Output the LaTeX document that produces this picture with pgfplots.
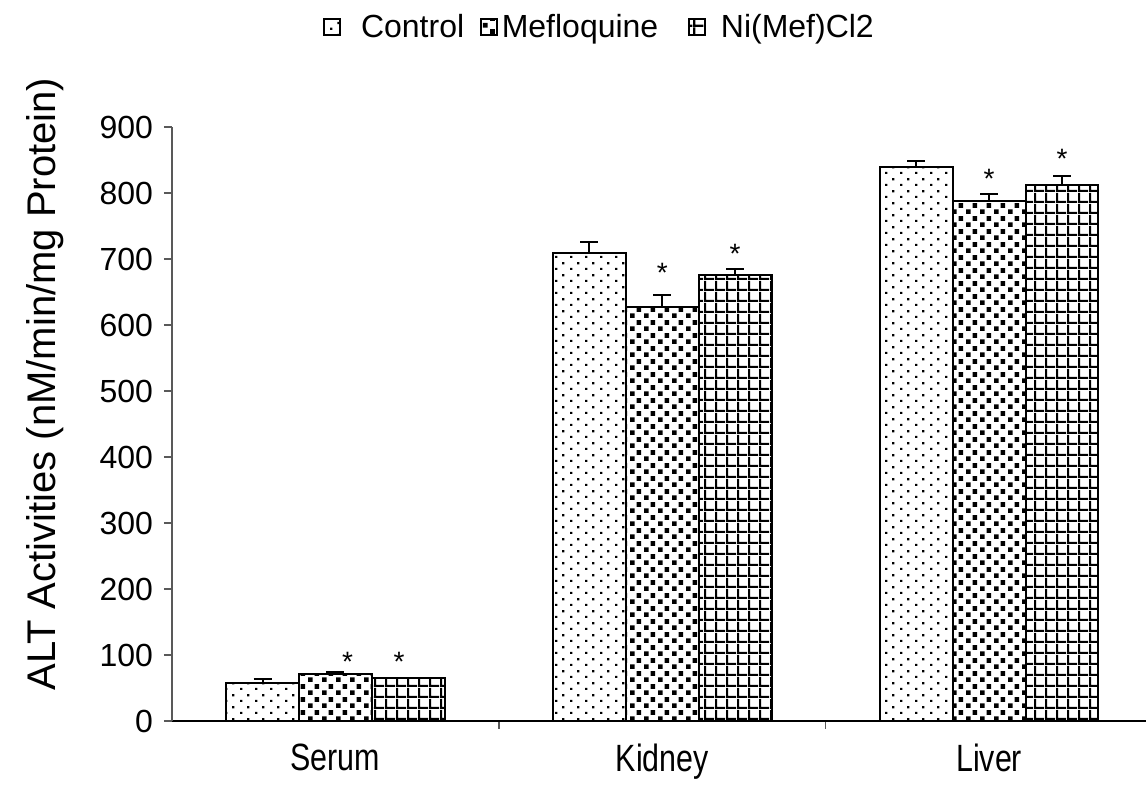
\documentclass[border=0pt]{standalone}
\usepackage{fontspec}
\setmainfont{Liberation Sans}
\newfontfamily\narrowsans[FakeStretch=0.8]{Liberation Sans}
\usepackage{pgfplots}
\usepackage{pgfplotstable}
\pgfplotsset{compat=1.18}
\usetikzlibrary{patterns}

% fill patterns of the three groups
\pgfdeclarepatternformonly{ctrldots}{\pgfpointorigin}{\pgfpoint{7.5pt}{6pt}}{\pgfpoint{7.5pt}{6pt}}{%
  \pgfpathrectangle{\pgfpoint{0pt}{0pt}}{\pgfpoint{1.2pt}{1.2pt}}%
  \pgfpathrectangle{\pgfpoint{3.75pt}{3pt}}{\pgfpoint{1.2pt}{1.2pt}}%
  \pgfusepath{fill}}
\pgfdeclarepatternformonly{mefsquares}{\pgfpointorigin}{\pgfpoint{7pt}{6.6pt}}{\pgfpoint{7pt}{6.6pt}}{%
  \pgfpathrectangle{\pgfpoint{0pt}{0pt}}{\pgfpoint{2.5pt}{2.5pt}}%
  \pgfpathrectangle{\pgfpoint{3.5pt}{3.3pt}}{\pgfpoint{2.5pt}{2.5pt}}%
  \pgfusepath{fill}}
\pgfdeclarepatternformonly{nigrid}{\pgfpointorigin}{\pgfpoint{5.5pt}{5.5pt}}{\pgfpoint{5.5pt}{5.5pt}}{%
  \pgfpathrectangle{\pgfpoint{0pt}{0pt}}{\pgfpoint{1.2pt}{5.5pt}}%
  \pgfpathrectangle{\pgfpoint{0pt}{0pt}}{\pgfpoint{5.5pt}{1.2pt}}%
  \pgfusepath{fill}}

\pgfplotstableread{
x y e
0 57 6
1 709 17
2 839 10
}\ctrl
\pgfplotstableread{
x y e
0 71 3
1 627 18
2 788 10
}\mef
\pgfplotstableread{
x y e
0 65 0
1 676 9
2 812 14
}\nimef
% baselines of the significance asterisks
\pgfplotstableread{
x y
0.037 74
0.195 74
1 664
1.223 692
2 806
2.223 837
}\stars

\pgfplotsset{
  grpbar/.style={ybar, bar width=0.223, bar shift=0, draw=black, line width=1pt,
    error bars/y dir=plus, error bars/y explicit, error bars/error mark=-,
    error bars/error bar style={line width=1pt, black},
    error bars/error mark options={rotate=90, mark size=4.5pt, line width=1pt, black}},
}

\begin{document}
\begin{tikzpicture}
\begin{axis}[
  at={(0pt,0pt)}, anchor=south west,
  scale only axis, width=487pt, height=297pt,
  xmin=-0.5, xmax=2.48, ymin=0, ymax=900,
  axis x line*=bottom, axis y line*=left,
  axis line style={-, line width=0.8pt},
  x axis line style={black}, y axis line style={black!65},
  ytick={0,100,...,900},
  xtick={0.5,1.5}, xticklabels={},
  extra x ticks={0,1,2}, extra x tick labels={Serum,Kidney,Liver},
  extra x tick style={major tick length=0pt},
  tick align=outside, major tick length=4pt,
  tick style={black!65, line width=0.8pt},
  /pgf/number format/assume math mode=true,
  yticklabel style={font=\fontsize{16}{16}\selectfont, xshift=-2pt},
  xticklabel style={font=\narrowsans\fontsize{19}{19}\selectfont, yshift=-8pt},
  ylabel={ALT Activities (nM/min/mg Protein)},
  ylabel style={font=\fontsize{20}{20}\selectfont, at={(axis description cs:-0.1304,0.567)}, anchor=center},
  legend columns=3,
  legend style={at={(axis description cs:0.438,1.168)}, anchor=center, draw=none,
    font=\fontsize{16}{16}\selectfont, nodes={inner sep=0pt, text depth=0.15em}},
  legend image code/.code={\draw[#1, line width=0.8pt] (0pt,-4pt) rectangle (8pt,4pt);},
]
\addplot[grpbar, pattern=ctrldots] table[x expr=\thisrow{x}-0.223, y=y, y error=e] {\ctrl};
\addlegendentry{\rule{10pt}{0pt}Control\rule{8pt}{0pt}}
\addplot[grpbar, pattern=mefsquares] table[x=x, y=y, y error=e] {\mef};
\addlegendentry{\rule{2pt}{0pt}Mefloquine\rule{15pt}{0pt}}
\addplot[grpbar, pattern=nigrid] table[x expr=\thisrow{x}+0.223, y=y, y error=e] {\nimef};
\addlegendentry{\rule{7.5pt}{0pt}Ni(Mef)Cl2}
\addplot[forget plot, draw=none, mark=none, nodes near coords={*},
  nodes near coords style={anchor=south, inner sep=0pt, font=\fontsize{14}{14}\selectfont}]
  table[x=x, y=y] {\stars};
\end{axis}
\pgfresetboundingbox
\path[use as bounding box] (-86pt,-32.5pt) rectangle (487pt,360.5pt);
\end{tikzpicture}
\end{document}
